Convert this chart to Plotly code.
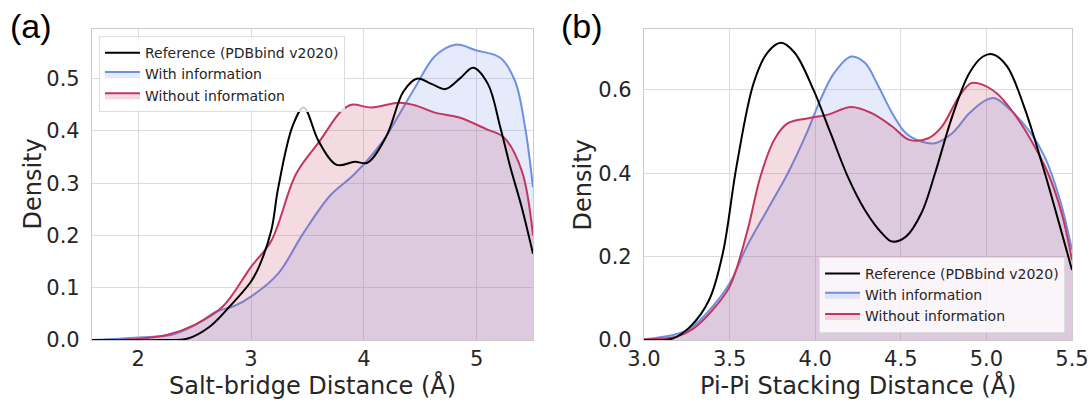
import plotly.graph_objects as go

# ---------------- Panel (a): Salt-bridge distance ----------------
a_ref_x = [1.59, 2.2, 2.44, 2.63, 2.81, 3.0, 3.07, 3.18, 3.24, 3.37, 3.467, 3.6, 3.76, 3.92, 4.03, 4.2, 4.35, 4.47, 4.6, 4.72, 4.85, 4.97, 5.1, 5.21, 5.3, 5.40, 5.5]
a_ref_y = [0.0, 0.0, 0.003, 0.025, 0.064, 0.112, 0.14, 0.21, 0.29, 0.41, 0.445, 0.38, 0.335, 0.341, 0.339, 0.39, 0.475, 0.50, 0.49, 0.48, 0.50, 0.521, 0.49, 0.407, 0.33, 0.254, 0.165]

a_with_x = [1.59, 2.0, 2.3, 2.5, 2.69, 2.85, 3.0, 3.24, 3.46, 3.70, 3.92, 4.17, 4.35, 4.47, 4.63, 4.81, 5.0, 5.21, 5.34, 5.43, 5.5]
a_with_y = [0.0, 0.005, 0.01, 0.028, 0.054, 0.065, 0.083, 0.127, 0.203, 0.276, 0.318, 0.381, 0.445, 0.489, 0.543, 0.565, 0.554, 0.540, 0.496, 0.407, 0.292]

a_wo_x = [1.59, 2.0, 2.26, 2.5, 2.75, 3.0, 3.18, 3.4, 3.61, 3.80, 3.89, 4.07, 4.32, 4.47, 4.63, 4.84, 5.09, 5.24, 5.40, 5.5]
a_wo_y = [0.0, 0.002, 0.01, 0.029, 0.064, 0.14, 0.19, 0.318, 0.381, 0.438, 0.45, 0.445, 0.454, 0.448, 0.435, 0.426, 0.403, 0.388, 0.324, 0.20]

# ---------------- Panel (b): Pi-Pi stacking distance ----------------
b_ref_x = [3.0, 3.17, 3.27, 3.38, 3.46, 3.54, 3.64, 3.72, 3.80, 3.88, 3.99, 4.09, 4.19, 4.29, 4.39, 4.45, 4.53, 4.62, 4.70, 4.80, 4.90, 4.98, 5.04, 5.12, 5.22, 5.33, 5.43, 5.5]
b_ref_y = [0.0, 0.004, 0.032, 0.096, 0.208, 0.416, 0.616, 0.689, 0.713, 0.689, 0.60, 0.496, 0.392, 0.312, 0.256, 0.236, 0.248, 0.304, 0.40, 0.536, 0.64, 0.68, 0.685, 0.657, 0.56, 0.416, 0.272, 0.168]

b_with_x = [3.0, 3.17, 3.27, 3.40, 3.50, 3.60, 3.72, 3.84, 3.95, 4.03, 4.11, 4.21, 4.29, 4.37, 4.45, 4.53, 4.62, 4.70, 4.80, 4.90, 5.0, 5.05, 5.14, 5.26, 5.34, 5.43, 5.5]
b_with_y = [0.002, 0.012, 0.028, 0.08, 0.136, 0.224, 0.312, 0.40, 0.496, 0.576, 0.64, 0.68, 0.665, 0.608, 0.544, 0.496, 0.476, 0.472, 0.496, 0.544, 0.576, 0.58, 0.552, 0.496, 0.44, 0.336, 0.216]

b_wo_x = [3.0, 3.19, 3.29, 3.40, 3.50, 3.60, 3.68, 3.76, 3.84, 3.96, 4.07, 4.21, 4.33, 4.45, 4.55, 4.66, 4.74, 4.84, 4.91, 4.96, 5.06, 5.16, 5.26, 5.36, 5.44, 5.5]
b_wo_y = [0.002, 0.008, 0.028, 0.072, 0.128, 0.256, 0.392, 0.48, 0.52, 0.532, 0.54, 0.559, 0.544, 0.512, 0.48, 0.484, 0.512, 0.584, 0.616, 0.615, 0.592, 0.544, 0.48, 0.40, 0.304, 0.192]

names = ["Reference (PDBbind v2020)", "With information", "Without information"]
a_xticks = [2, 3, 4, 5]
a_yticks = [0.0, 0.1, 0.2, 0.3, 0.4, 0.5]
b_xticks = [3.0, 3.5, 4.0, 4.5, 5.0, 5.5]
b_yticks = [0.0, 0.2, 0.4, 0.6]

BLUE = "rgb(111,143,227)"
BLUE_F = "rgba(111,143,227,0.18)"
RED = "rgb(193,55,95)"
RED_F = "rgba(193,55,95,0.18)"
FONT = "DejaVu Sans"
TXT = "#262626"
GRID = "#dcdcdc"

fig = go.Figure()

def add_panel(xa, ya, rx, ry, wx, wy, ox, oy, legend):
    fig.add_trace(go.Scatter(x=wx, y=wy, mode="lines", line=dict(color=BLUE, width=2, shape="spline", smoothing=1.0),
                             fill="tozeroy", fillcolor=BLUE_F, showlegend=False, xaxis=xa, yaxis=ya, hoverinfo="skip"))
    fig.add_trace(go.Scatter(x=ox, y=oy, mode="lines", line=dict(color=RED, width=2, shape="spline", smoothing=1.0),
                             fill="tozeroy", fillcolor=RED_F, showlegend=False, xaxis=xa, yaxis=ya, hoverinfo="skip"))
    fig.add_trace(go.Scatter(x=rx, y=ry, mode="lines", line=dict(color="black", width=2, shape="spline", smoothing=1.0),
                             showlegend=False, xaxis=xa, yaxis=ya, hoverinfo="skip"))
    # legend entries (boxes for the filled densities, line for the reference)
    fig.add_trace(go.Scatter(x=[None], y=[None], mode="lines", line=dict(color="black", width=2),
                             name=names[0], xaxis=xa, yaxis=ya, legend=legend, legendrank=1))
    fig.add_trace(go.Scatter(x=[None], y=[None], mode="lines", line=dict(color=BLUE, width=2), fill="toself",
                             fillcolor=BLUE_F, name=names[1], xaxis=xa, yaxis=ya, legend=legend, legendrank=2))
    fig.add_trace(go.Scatter(x=[None], y=[None], mode="lines", line=dict(color=RED, width=2), fill="toself",
                             fillcolor=RED_F, name=names[2], xaxis=xa, yaxis=ya, legend=legend, legendrank=3))

add_panel("x", "y", a_ref_x, a_ref_y, a_with_x, a_with_y, a_wo_x, a_wo_y, "legend")
add_panel("x2", "y2", b_ref_x, b_ref_y, b_with_x, b_with_y, b_wo_x, b_wo_y, "legend2")

axis_common = dict(showgrid=True, gridcolor=GRID, gridwidth=1, showline=True, linecolor="#cccccc", linewidth=1.25,
                   mirror=True, zeroline=False, ticks="", automargin=False, fixedrange=True,
                   tickfont=dict(family=FONT, size=21, color=TXT))

leg_common = dict(bgcolor="rgba(255,255,255,0.8)", bordercolor="#dddddd", borderwidth=1,
                  font=dict(family=FONT, size=14, color=TXT), traceorder="normal", tracegroupgap=0, itemwidth=35)

fig.update_layout(
    width=1091, height=402,
    margin=dict(l=92, r=19, t=29, b=62),
    paper_bgcolor="white", plot_bgcolor="white",
    showlegend=True, hovermode=False,
    xaxis=dict(domain=[0, 0.45], range=[1.59, 5.5], tickvals=a_xticks, ticktext=[str(v) for v in a_xticks],
               ticklabelstandoff=0, **axis_common),
    yaxis=dict(domain=[0, 1], range=[0, 0.595], tickvals=a_yticks, ticktext=[f"{v:.1f}" for v in a_yticks],
               ticklabelstandoff=7, **axis_common),
    xaxis2=dict(domain=[0.5633, 1], range=[3.0, 5.5], tickvals=b_xticks, ticktext=[f"{v:.1f}" for v in b_xticks],
                anchor="y2", ticklabelstandoff=0, **axis_common),
    yaxis2=dict(domain=[0, 1], range=[0, 0.746], tickvals=b_yticks, ticktext=[f"{v:.1f}" for v in b_yticks],
                anchor="x2", ticklabelstandoff=7, **axis_common),
    legend=dict(x=0.0071, y=0.977, xanchor="left", yanchor="top", **leg_common),
    legend2=dict(x=0.9929, y=0.0225, xanchor="right", yanchor="bottom", **leg_common),
)

title_font = dict(family=FONT, size=24, color=TXT)
fig.add_annotation(text="Salt-bridge Distance (Å)", xref="paper", yref="paper", x=0.225, y=-0.1447,
                   xanchor="center", yanchor="middle", showarrow=False, font=title_font)
fig.add_annotation(text="Pi-Pi Stacking Distance (Å)", xref="paper", yref="paper", x=0.7816, y=-0.1447,
                   xanchor="center", yanchor="middle", showarrow=False, font=title_font)
fig.add_annotation(text="Density", xref="paper", yref="paper", x=-0.0612, y=0.5, textangle=-90,
                   xanchor="center", yanchor="middle", showarrow=False, font=title_font)
fig.add_annotation(text="Density", xref="paper", yref="paper", x=0.501, y=0.5, textangle=-90,
                   xanchor="center", yanchor="middle", showarrow=False, font=title_font)

fig.add_annotation(text="(a)", xref="paper", yref="paper", x=-0.0622, y=1.01, xanchor="center", yanchor="middle",
                   showarrow=False, font=dict(family="Liberation Sans", size=34, color="black"))
fig.add_annotation(text="(b)", xref="paper", yref="paper", x=0.5, y=1.01, xanchor="center", yanchor="middle",
                   showarrow=False, font=dict(family="Liberation Sans", size=34, color="black"))

# remove the browser's default 8px body margin so the figure fills the window exactly
fig.write_html("out.html", config={"displayModeBar": False},
               post_script="document.body.style.margin='0';document.body.style.overflow='hidden';")
